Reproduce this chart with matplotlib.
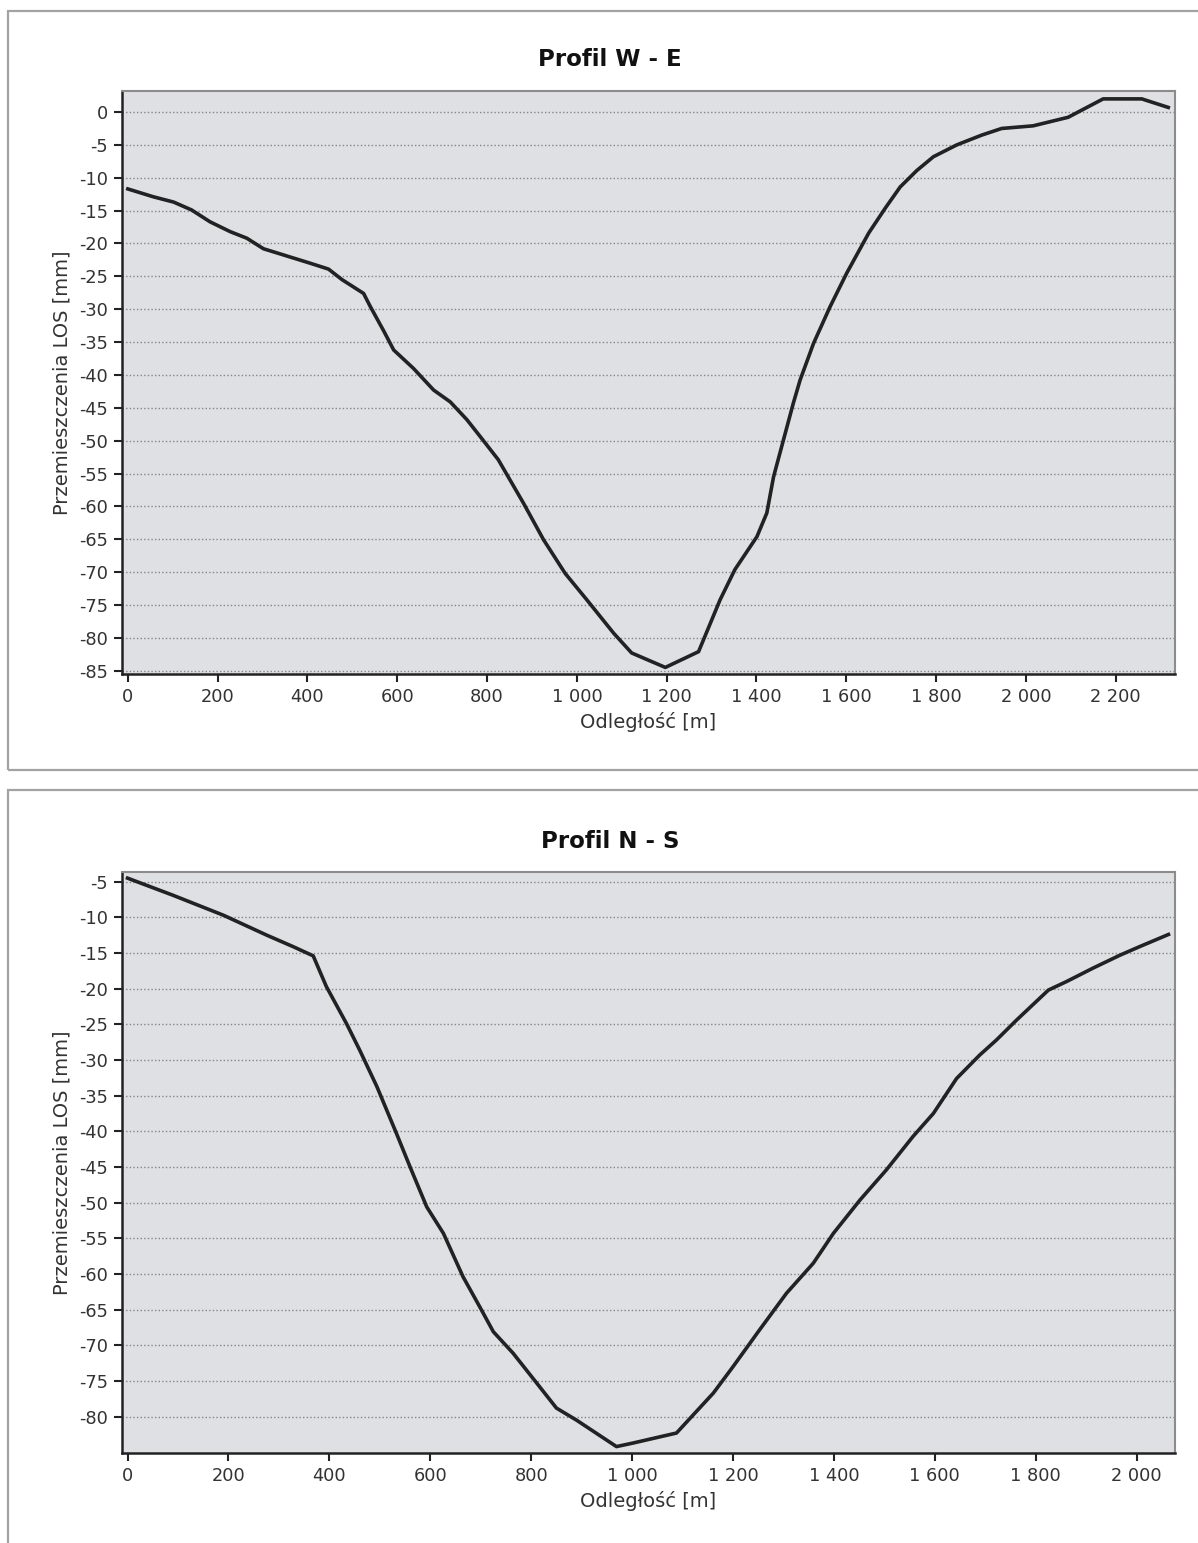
import numpy as np
import matplotlib.pyplot as plt
from matplotlib.patches import Rectangle
from matplotlib.ticker import FuncFormatter

plt.rcParams['axes.unicode_minus'] = False

# Profil W - E
we_x = [0, 57, 102, 142, 183, 228, 265, 302, 354, 406, 447, 477, 525, 540, 569, 592,
        636, 681, 718, 755, 785, 825, 881, 926, 974, 1022, 1082, 1122, 1156, 1197,
        1271, 1319, 1352, 1401, 1423, 1438, 1460, 1482, 1497, 1527, 1564, 1601, 1650,
        1687, 1720, 1757, 1794, 1846, 1902, 1946, 2016, 2094, 2172, 2258, 2317]
we_y = [-11.7, -12.9, -13.7, -14.9, -16.7, -18.2, -19.2, -20.8, -21.9, -23.0, -23.9,
        -25.5, -27.6, -29.6, -33.2, -36.2, -39.0, -42.3, -44.1, -46.8, -49.4, -52.9,
        -59.5, -65.1, -70.2, -74.2, -79.3, -82.3, -83.3, -84.5, -82.1, -74.2, -69.6,
        -64.6, -61.0, -55.5, -49.9, -44.3, -40.8, -35.2, -29.6, -24.5, -18.4, -14.6,
        -11.4, -8.9, -6.8, -5.0, -3.5, -2.5, -2.1, -0.8, 2.0, 2.0, 0.7]

# Profil N - S
ns_x = [0, 90, 190, 276, 328, 368, 394, 434, 460, 494, 533, 560, 593, 626, 665, 698,
        725, 764, 811, 850, 890, 969, 1002, 1088, 1161, 1200, 1253, 1306, 1359, 1399,
        1452, 1504, 1557, 1597, 1643, 1689, 1722, 1762, 1825, 1861, 1914, 1967, 2006, 2063]
ns_y = [-4.5, -6.9, -9.7, -12.5, -14.1, -15.4, -19.7, -24.9, -28.6, -33.7, -40.3,
        -45.0, -50.6, -54.3, -60.4, -64.6, -68.1, -71.1, -75.3, -78.8, -80.5, -84.2,
        -83.7, -82.3, -76.7, -73.0, -67.8, -62.7, -58.5, -54.3, -49.6, -45.4, -40.7,
        -37.5, -32.6, -29.3, -27.2, -24.4, -20.2, -19.0, -17.1, -15.3, -14.1, -12.4]

W, H = 1198, 1543
fig = plt.figure(figsize=(W / 100, H / 100), dpi=100)


def fx(px):
    return px / W


def fy(py):
    return 1 - py / H


def space_thousands(v, pos):
    return f"{int(round(v)):,}".replace(",", " ")


def draw_panel(x, y, title, frame, box, yticks, xlim, ylim, xmax_tick):
    # ramka panelu
    fx0, fy0, fx1, fy1 = frame
    fig.patches.append(Rectangle((fx(fx0), fy(fy1)), fx(fx1 - fx0), (fy1 - fy0) / H,
                                 transform=fig.transFigure, fill=False,
                                 edgecolor='#a3a3a3', linewidth=1.6))
    l, t, r, b = box
    ax = fig.add_axes([fx(l), fy(b), fx(r - l), (b - t) / H])
    ax.set_facecolor('#dfe0e3')
    ax.plot(x, y, color='#222222', linewidth=2.6, solid_joinstyle='round')
    ax.set_xlim(*xlim)
    ax.set_ylim(*ylim)
    ax.set_yticks(yticks)
    ax.set_xticks(np.arange(0, xmax_tick + 1, 200))
    ax.xaxis.set_major_formatter(FuncFormatter(space_thousands))
    ax.grid(axis='y', color='#858585', linestyle=(0, (1, 1.6)), linewidth=1.0)
    ax.set_axisbelow(True)
    for s in ['left', 'bottom']:
        ax.spines[s].set_color('#222222')
        ax.spines[s].set_linewidth(1.8)
    for s in ['top', 'right']:
        ax.spines[s].set_color('#8c8c8c')
        ax.spines[s].set_linewidth(1.5)
    ax.tick_params(direction='out', length=6, width=1.5, color='#222222',
                   labelsize=12.8, labelcolor='#333333', pad=4)
    fig.text(fx(610), fy(t - 31), title, ha='center', va='center',
             fontsize=16.5, fontweight='bold', color='#111111')
    fig.text(fx((l + r) / 2), fy(b + 48), 'Odległość [m]', ha='center', va='center',
             fontsize=14, color='#333333')
    fig.text(fx(62), fy((t + b) / 2), 'Przemieszczenia LOS [mm]', ha='center',
             va='center', rotation=90, fontsize=14, color='#333333')
    return ax


draw_panel(we_x, we_y, 'Profil W - E', (8, 11, 1202, 770), (122, 91, 1175, 674),
           np.arange(0, -86, -5), (-13, 2332), (-85.5, 3.2), 2200)
draw_panel(ns_x, ns_y, 'Profil N - S', (8, 790, 1202, 1560), (122, 872, 1175, 1453),
           np.arange(-5, -81, -5), (-11, 2076), (-85.1, -3.64), 2000)

fig.savefig('out.png', dpi=100, facecolor='white')
